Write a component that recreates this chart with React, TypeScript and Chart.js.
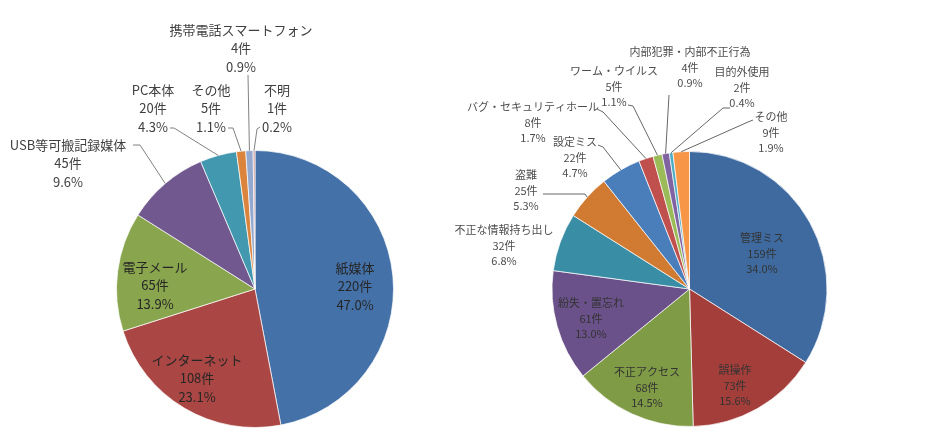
import React, { useEffect, useRef } from "react";
import { Chart, registerables } from "chart.js";
Chart.register(...registerables);

// ---- data ----
const leftCategories = ["紙媒体", "インターネット", "電子メール", "USB等可搬記録媒体", "PC本体", "その他", "携帯電話スマートフォン", "不明"];
const leftValues = [220, 108, 65, 45, 20, 5, 4, 1];
const leftColors = ["#4471A8", "#AA4643", "#89A54E", "#71588F", "#4198AF", "#DB843D", "#93A9CF", "#D19392"];

const rightCategories = ["管理ミス", "誤操作", "不正アクセス", "紛失・置忘れ", "不正な情報持ち出し", "盗難", "設定ミス", "バグ・セキュリティホール", "ワーム・ウイルス", "内部犯罪・内部不正行為", "目的外使用", "その他"];
const rightValues = [159, 73, 68, 61, 32, 25, 22, 8, 5, 4, 2, 9];
const rightColors = ["#3F6AA0", "#A43E3B", "#7F9B46", "#6A5189", "#398EA6", "#D07B31", "#4A7EBB", "#C0504D", "#9BBB59", "#8064A2", "#4BACC6", "#F79646"];

// ---- label layout (offsets from pie centre) ----
type Pt = [number, number];
const leftLabelPos: Pt[] = [[100, -21], [-58, 71], [-100, -22], [-187, -144], [-102, -199], [-44, -199], [-14, -259], [22, -199]];
const leftLeaders: (Pt[] | null)[] = [null, null, null,
  [[-122, -144], [-115, -144]],
  [[-85, -161], [-81, -161]],
  [[-27, -161], [-22, -161]],
  [[-7, -214], [-7, -214]],
  [[5, -162], [2, -160]]];

const rightLabelPos: Pt[] = [[72.5, -51], [45.5, 81], [-42.5, 83], [-98.5, 14], [-185.5, -59], [-163.5, -114], [-114.5, -147], [-156.5, -182], [-75.5, -218], [0.5, -237], [52.5, -217], [81.5, -172]];
const rightLeaders: (Pt[] | null)[] = [null, null, null, null, null,
  [[-146.5, -95], [-104.5, -95]],
  [[-91.5, -144], [-86.5, -142]],
  [[-92.5, -180], [-86.5, -177]],
  [[-61.5, -184], [-56.5, -183]],
  [[-20.5, -194], [-20.5, -194]],
  [[40.5, -181], [33.5, -181]],
  [[63.5, -169], [58.5, -167]]];

type Cfg = {
  cats: string[]; vals: number[]; colors: string[];
  pos: Pt[]; leaders: (Pt[] | null)[];
  font: string; lineH: number; inColor: string; outColor: string; lineColor: string;
  padding: { left: number; right: number; top: number; bottom: number };
  width: number; left: number;
};

const labelPlugin = {
  id: "pieLabels",
  afterDatasetsDraw(chart: any, _args: any, opts: any) {
    const cfg: Cfg = opts.cfg;
    const ctx = chart.ctx;
    const meta = chart.getDatasetMeta(0);
    const total = cfg.vals.reduce((a, b) => a + b, 0);
    ctx.save();
    meta.data.forEach((arc: any, i: number) => {
      const p = arc.getProps(["x", "y", "startAngle", "endAngle", "outerRadius"], true);
      const mid = (p.startAngle + p.endAngle) / 2;
      const ex = p.x + Math.cos(mid) * p.outerRadius;
      const ey = p.y + Math.sin(mid) * p.outerRadius;
      const ld = cfg.leaders[i];
      if (ld) {
        ctx.beginPath();
        ctx.strokeStyle = cfg.lineColor;
        ctx.lineWidth = 1;
        ctx.moveTo(p.x + ld[0][0], p.y + ld[0][1]);
        ctx.lineTo(p.x + ld[1][0], p.y + ld[1][1]);
        ctx.lineTo(ex, ey);
        ctx.stroke();
      }
      const [dx, dy] = cfg.pos[i];
      const inside = Math.hypot(dx, dy) < p.outerRadius;
      ctx.fillStyle = inside ? cfg.inColor : cfg.outColor;
      ctx.font = cfg.font;
      ctx.textAlign = "center";
      ctx.textBaseline = "middle";
      const lines = [cfg.cats[i], `${cfg.vals[i]}件`, `${((cfg.vals[i] / total) * 100).toFixed(1)}%`];
      lines.forEach((t, k) => ctx.fillText(t, p.x + dx, p.y + dy + k * cfg.lineH));
    });
    ctx.restore();
  },
};

function PieCanvas({ cfg }: { cfg: Cfg }) {
  const ref = useRef<HTMLCanvasElement>(null);
  useEffect(() => {
    if (!ref.current) return;
    const chart = new Chart(ref.current, {
      type: "pie",
      data: {
        labels: cfg.cats,
        datasets: [{ data: cfg.vals, backgroundColor: cfg.colors, borderColor: "rgba(255,255,255,0.7)", borderWidth: 1 }],
      },
      options: {
        responsive: false,
        animation: false,
        devicePixelRatio: 1,
        layout: { padding: cfg.padding },
        plugins: { legend: { display: false }, tooltip: { enabled: false }, pieLabels: { cfg } } as any,
      },
      plugins: [labelPlugin],
    });
    return () => chart.destroy();
  }, [cfg]);
  return <canvas ref={ref} width={cfg.width} height={440} style={{ position: "absolute", left: cfg.left, top: 0, width: cfg.width, height: 440 }} />;
}

const leftCfg: Cfg = {
  cats: leftCategories, vals: leftValues, colors: leftColors,
  pos: leftLabelPos, leaders: leftLeaders,
  font: "13px 'Noto Sans CJK JP'", lineH: 18.5, inColor: "#262626", outColor: "#404040", lineColor: "#808080",
  padding: { left: 116, right: 72, top: 150, bottom: 12 }, width: 466, left: 0,
};
const rightCfg: Cfg = {
  cats: rightCategories, vals: rightValues, colors: rightColors,
  pos: rightLabelPos, leaders: rightLeaders,
  font: "11px 'Noto Sans CJK JP'", lineH: 15.5, inColor: "#333333", outColor: "#4d4d4d", lineColor: "#666666",
  padding: { left: 131.5, right: 105.5, top: 151, bottom: 13 }, width: 513, left: 420,
};

export default function App() {
  useEffect(() => {
    document.body.style.margin = "0";
  }, []);
  return (
    <div style={{ position: "fixed", left: 0, top: 0, width: 933, height: 440, background: "#ffffff" }}>
      <PieCanvas cfg={leftCfg} />
      <PieCanvas cfg={rightCfg} />
    </div>
  );
}
